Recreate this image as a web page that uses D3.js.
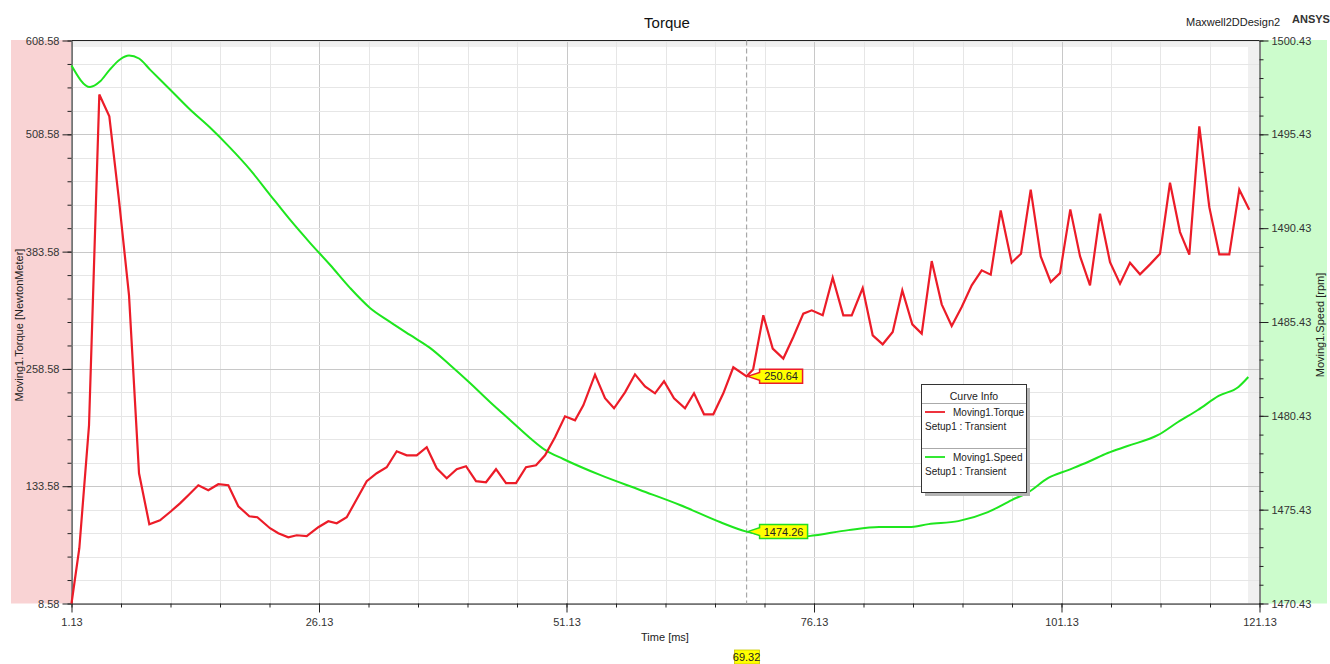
<!DOCTYPE html>
<html><head><meta charset="utf-8">
<script src="https://cdn.jsdelivr.net/npm/d3@7"></script>
<style>
body{margin:0;background:#fff;}
svg{display:block;font-family:"Liberation Sans",Arial,sans-serif;}
</style></head>
<body><svg id="c" width="1330" height="664"></svg>
<script>
// ---- data ----
const torqueTime = [1.13,1.92,2.90,3.94,4.95,5.93,6.94,7.95,8.99,10.07,11.18,12.09,12.93,13.94,14.95,15.96,16.97,17.98,19.09,19.90,21.18,22.02,23.03,23.88,24.89,26.06,27.07,27.92,28.93,29.94,30.95,31.96,32.97,33.98,34.99,36.00,37.01,38.02,39.03,40.04,40.98,41.99,43.00,44.01,45.02,46.03,47.04,48.05,48.96,49.97,50.98,51.99,52.83,54.01,55.02,55.93,57.04,58.05,59.06,60.07,60.98,61.99,63.10,64.01,65.02,65.96,66.97,67.98,69.32,69.98,71.01,71.96,73.03,74.04,75.05,75.90,77.01,78.02,79.09,79.94,81.05,82.06,83.07,84.08,85.05,86.06,87.01,88.02,89.03,90.04,91.05,92.06,93.07,93.98,94.99,96.10,97.04,98.02,99.03,100.04,100.98,102.02,103.00,104.01,105.02,106.03,107.04,108.05,109.06,110.07,111.08,112.09,113.10,114.04,115.05,116.06,117.07,118.08,119.09,120.10];
const torqueValues = [8.58,67.5,198.5,551.1,527.7,438.2,337.0,147.4,93.1,97.3,106.9,115.3,124.0,134.6,129.3,135.7,134.6,112.2,101.6,100.5,88.8,83.4,79.2,81.3,80.3,89.9,96.3,94.1,100.5,119.7,138.9,147.4,153.8,170.8,166.5,166.5,175.1,152.7,142.1,151.7,154.9,138.9,137.8,151.7,136.8,136.8,153.8,155.9,166.5,185.7,208.1,203.8,219.8,252.5,227.3,216.6,233.6,252.8,240.0,232.6,245.4,227.3,216.6,232.6,210.2,210.2,232.6,260.3,250.64,258.0,315.7,280.2,269.6,292.6,317.5,321.0,315.7,355.8,315.7,315.7,344.8,294.4,284.8,297.9,342.3,306.1,296.2,373.5,327.4,304.3,324.5,347.6,363.6,359.0,427.5,371.8,381.4,449.6,378.5,351.2,360.7,428.6,378.8,347.6,424.0,372.4,349.4,371.8,359.4,370.0,381.4,457.0,404.4,380.3,517.0,431.0,380.6,380.6,449.6,428.3];
const speedTime = [1.13,3.0,4.0,5.0,6.03,6.94,7.95,9.06,11.08,13.10,15.12,17.14,19.16,21.18,23.20,25.22,27.24,29.26,31.28,33.30,35.32,37.34,39.36,41.38,43.40,45.42,47.44,49.0,50.80,54.51,58.55,62.59,66.63,69.32,71.5,73.5,75.6,79.6,82.7,85.7,87.7,90.7,93.7,96.1,97.8,99.8,101.8,103.8,105.8,107.8,110.9,112.9,114.9,117.0,119.0,120.0];
const speedValues = [1499.10,1497.95,1498.24,1498.88,1499.42,1499.63,1499.47,1498.88,1497.82,1496.75,1495.79,1494.72,1493.55,1492.21,1490.88,1489.65,1488.48,1487.25,1486.18,1485.44,1484.74,1484.05,1483.14,1482.18,1481.17,1480.21,1479.25,1478.60,1478.13,1477.28,1476.48,1475.68,1474.77,1474.26,1474.05,1473.97,1474.02,1474.34,1474.50,1474.50,1474.66,1474.82,1475.30,1475.94,1476.37,1477.12,1477.54,1477.97,1478.45,1478.82,1479.41,1480.10,1480.74,1481.49,1481.97,1482.50];
const xTickLabels = [1.13,26.13,51.13,76.13,101.13,121.13];
const leftTickLabels = [8.58,133.58,258.58,383.58,508.58,608.58];
const rightTickLabels = [1470.43,1475.43,1480.43,1485.43,1490.43,1495.43,1500.43];
const markerTime = 69.32, markerTorque = 250.64, markerSpeed = 1474.26;

// ---- layout ----
const svg = d3.select("#c");
const L = 71.5, R = 1259.5, T = 40.5, B = 603.5;
const x = d3.scaleLinear().domain([1.13,121.13]).range([L,R]);
const yL = d3.scaleLinear().domain([8.58,608.58]).range([B,T]);
const yR = d3.scaleLinear().domain([1470.43,1500.43]).range([B,T]);
const xMinor = d3.range(1.13,121.14,5);
const lMinor = d3.range(8.58,608.59,25);
const rMinor = d3.range(1470.43,1500.44,1);
const fmt = d3.format(".2f");

// side bands
svg.append("rect").attr("x",11).attr("y",40).attr("width",L-11).attr("height",B-40).attr("fill","#f9d3d4");
svg.append("rect").attr("x",R).attr("y",40).attr("width",1327-R).attr("height",B-40).attr("fill","#ccfccc");
// plot background
svg.append("rect").attr("x",L).attr("y",T).attr("width",R-L).attr("height",B-T).attr("fill","#f0f0f0");
svg.append("rect").attr("x",L).attr("y",47).attr("width",1248-L).attr("height",B-47).attr("fill","#fff");

// grid
const grid = svg.append("g");
grid.selectAll(".vg").data(xMinor).join("line")
  .attr("x1",d=>Math.round(x(d))+0.5).attr("x2",d=>Math.round(x(d))+0.5).attr("y1",T).attr("y2",B)
  .attr("stroke",(d,i)=>i%5===0?"#c8c8c8":"#e6e6e6").attr("stroke-width",1);
grid.selectAll(".hg").data(lMinor).join("line")
  .attr("x1",L).attr("x2",R).attr("y1",d=>Math.round(yL(d))+0.5).attr("y2",d=>Math.round(yL(d))+0.5)
  .attr("stroke",(d,i)=>i%5===0?"#c8c8c8":"#e6e6e6").attr("stroke-width",1);

// axes
function styleAxis(g){g.selectAll("path").attr("stroke","#222");g.selectAll("line").attr("stroke","#222");
  g.selectAll("text").attr("fill","#333").attr("font-size","11px").attr("font-family","Liberation Sans, Arial, sans-serif");}
svg.append("g").attr("transform",`translate(0,${B})`)
  .call(d3.axisBottom(x).tickValues(xMinor).tickSize(4).tickFormat("").tickSizeOuter(0)).call(styleAxis);
svg.append("g").attr("transform",`translate(0,${B})`)
  .call(d3.axisBottom(x).tickValues(xTickLabels).tickSize(9).tickPadding(6).tickFormat(fmt).tickSizeOuter(0)).call(styleAxis)
  .select("path").remove();
svg.append("g").attr("transform",`translate(${L},0)`)
  .call(d3.axisLeft(yL).tickValues(lMinor).tickSize(4).tickFormat("").tickSizeOuter(0)).call(styleAxis);
svg.append("g").attr("transform",`translate(${L},0)`)
  .call(d3.axisLeft(yL).tickValues(leftTickLabels).tickSize(9).tickPadding(3).tickFormat(fmt).tickSizeOuter(0)).call(styleAxis)
  .select("path").remove();
svg.append("g").attr("transform",`translate(${R},0)`)
  .call(d3.axisRight(yR).tickValues(rMinor).tickSize(4).tickFormat("").tickSizeOuter(0)).call(styleAxis);
svg.append("g").attr("transform",`translate(${R},0)`)
  .call(d3.axisRight(yR).tickValues(rightTickLabels).tickSize(9).tickPadding(3).tickFormat(fmt).tickSizeOuter(0)).call(styleAxis)
  .select("path").remove();
svg.append("line").attr("x1",L).attr("x2",R).attr("y1",T).attr("y2",T).attr("stroke","#222");

// marker line
svg.append("line").attr("x1",x(markerTime)).attr("x2",x(markerTime)).attr("y1",T).attr("y2",B)
  .attr("stroke","#a8a8a8").attr("stroke-width",1.2).attr("stroke-dasharray","5,3");

// curves
const lineT = d3.line().x((d,i)=>x(torqueTime[i])).y(d=>yL(d));
const lineS = d3.line().x((d,i)=>x(speedTime[i])).y(d=>yR(d)).curve(d3.curveMonotoneX);
svg.append("path").attr("d",lineS(speedValues)).attr("fill","none").attr("stroke","#1ee61e").attr("stroke-width",2);
svg.append("path").attr("d",lineT(torqueValues)).attr("fill","none").attr("stroke","#ec1c28").attr("stroke-width",2.2).attr("stroke-linejoin","miter");

// callouts
function callout(px,py,txt,w,stroke){
  const bx=px+13, h=14, top=py-7;
  const pts=[[px+1,py],[bx,py-4],[bx,top],[bx+w,top],[bx+w,top+h],[bx,top+h],[bx,py+4]];
  svg.append("polygon").attr("points",pts.map(p=>p.join(",")).join(" ")).attr("fill","#ffff00")
    .attr("stroke",stroke).attr("stroke-width",1.5);
  svg.append("text").attr("x",bx+w/2).attr("y",py+4).attr("text-anchor","middle").attr("font-size","11px").attr("fill","#222").text(txt);
}
callout(x(markerTime),yL(markerTorque),fmt(markerTorque),43,"#ec1c28");
callout(x(markerTime),yR(markerSpeed),fmt(markerSpeed),48,"#22dd22");

// x marker label
svg.append("rect").attr("x",x(markerTime)-12).attr("y",650).attr("width",25).attr("height",14).attr("fill","#ffff00").attr("stroke","#c8c800").attr("stroke-width",0.8);
svg.append("text").attr("x",x(markerTime)).attr("y",661).attr("text-anchor","middle").attr("font-size","11px").attr("fill","#222").text(fmt(markerTime));

// titles
svg.append("text").attr("x",667).attr("y",28).attr("text-anchor","middle").attr("font-size","15px").attr("fill","#111").text("Torque");
svg.append("text").attr("x",1186).attr("y",26).attr("font-size","11px").attr("fill","#222").text("Maxwell2DDesign2");
svg.append("text").attr("x",1292).attr("y",23).attr("font-size","11px").attr("font-weight","bold").attr("fill","#333").text("ANSYS");
svg.append("text").attr("x",665).attr("y",641).attr("text-anchor","middle").attr("font-size","11px").attr("fill","#222").text("Time [ms]");
svg.append("text").attr("transform","translate(23,325) rotate(-90)").attr("text-anchor","middle").attr("font-size","11px").attr("fill","#222").text("Moving1.Torque [NewtonMeter]");
svg.append("text").attr("transform","translate(1324,325) rotate(-90)").attr("text-anchor","middle").attr("font-size","11px").attr("fill","#222").text("Moving1.Speed [rpm]");

// legend
const lg = svg.append("g");
lg.append("rect").attr("x",925).attr("y",388).attr("width",105).attr("height",108).attr("fill","#b4b4b4");
lg.append("rect").attr("x",921.5).attr("y",384.5).attr("width",105).attr("height",108).attr("fill","#fff").attr("stroke","#333");
lg.append("text").attr("x",974).attr("y",400).attr("text-anchor","middle").attr("font-size","10.5px").attr("fill","#222").text("Curve Info");
lg.append("line").attr("x1",922).attr("x2",1026).attr("y1",403.5).attr("y2",403.5).attr("stroke","#aaa");
lg.append("line").attr("x1",922).attr("x2",1026).attr("y1",448.5).attr("y2",448.5).attr("stroke","#aaa");
const legItems=[{name:"Moving1.Torque",color:"#ec1c28",y:412},{name:"Moving1.Speed",color:"#1ee61e",y:457}];
legItems.forEach(it=>{
  lg.append("line").attr("x1",925).attr("x2",945).attr("y1",it.y).attr("y2",it.y).attr("stroke",it.color).attr("stroke-width",1.8);
  lg.append("text").attr("x",953).attr("y",it.y+4).attr("font-size","10px").attr("fill","#222").text(it.name);
  lg.append("text").attr("x",925).attr("y",it.y+18).attr("font-size","10px").attr("fill","#222").text("Setup1 : Transient");
});
</script></body></html>
